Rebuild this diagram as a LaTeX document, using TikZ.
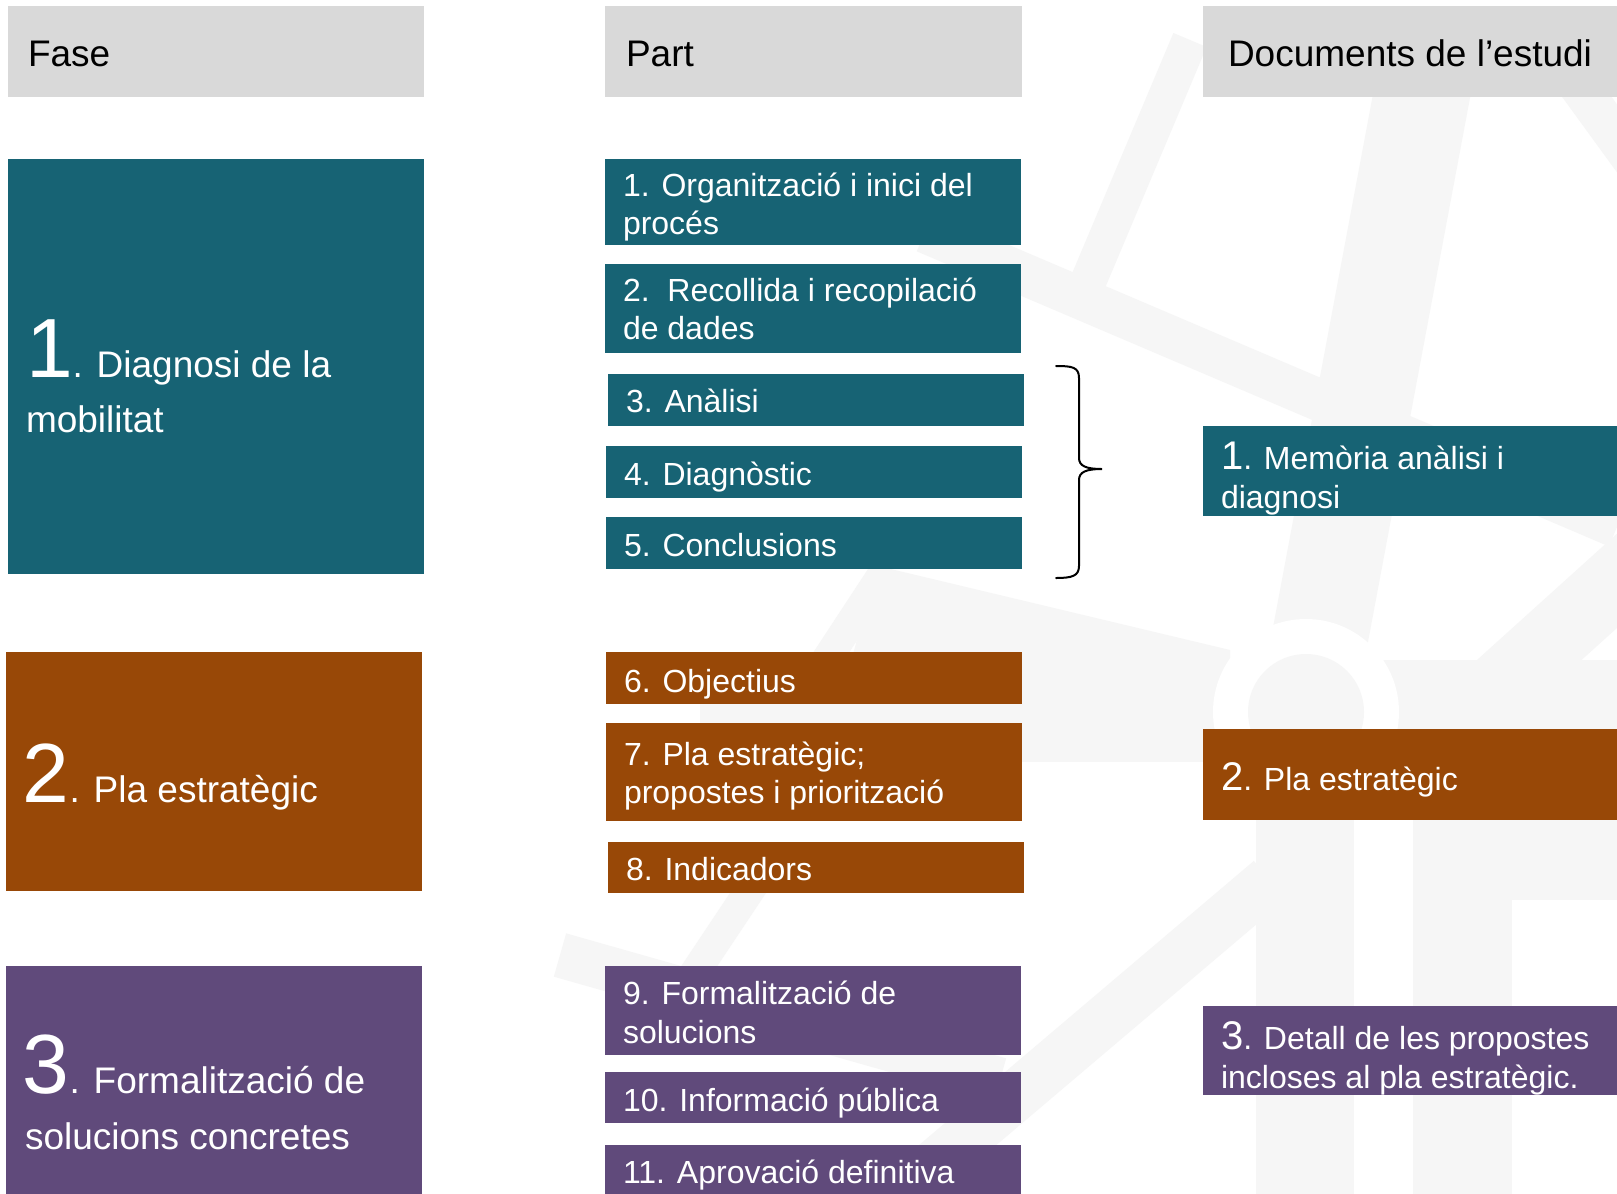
\documentclass[tikz,border=0pt]{standalone}
\usepackage{fontspec}
\setmainfont{Liberation Sans}
\definecolor{tealc}{HTML}{176374}
\definecolor{rustc}{HTML}{984807}
\definecolor{plumc}{HTML}{604A7B}
\definecolor{hdrc}{HTML}{D9D9D9}
\definecolor{wmc}{HTML}{F6F6F6}
\newcommand{\fasenum}[1]{{\fontsize{84}{84}\selectfont #1}}
\newcommand{\docnum}[1]{{\fontsize{40}{40}\selectfont #1}}
\begin{document}
\begin{tikzpicture}[x=1pt,y=-1pt,
  cell/.style={anchor=north west, inner sep=0pt, outer sep=0pt, draw=none},
  hd/.style={cell, fill=hdrc, minimum height=91pt},
  lbl/.style={anchor=base west, inner sep=0pt, outer sep=0pt},
  head/.style={lbl, text=black, font=\fontsize{37}{44}\selectfont},
  fase/.style={lbl, text=white, font=\fontsize{37}{44}\selectfont},
  part/.style={lbl, text=white, font=\fontsize{32}{38}\selectfont},
  wm/.style={draw=wmc, line cap=butt},
  bracec/.style={draw=black, line width=2pt, line cap=round}]
\useasboundingbox (0,0) rectangle (1617,1194);
\begin{scope}
\clip (0,0) rectangle (1617,1194);
\fill[white] (0,0) rectangle (1617,1194);
% ---- watermark (faint logo) ----
\draw[wm, line width=36pt] (1190,40) -- (1088,282);
\draw[wm, line width=42pt] (925,232) -- (1617,527);
\draw[wm, line width=96pt] (1432,40) -- (1306,712);
\fill[wmc] (700,660) rectangle (1617,762);
\fill[wmc] (878,566) -- (1230,650) -- (1230,700) -- (840,700) -- cycle;
\draw[wm, line width=30pt] (884,572) -- (800,700);
\draw[wm, line width=98pt] (1305,712) -- (1305,1194);
\draw[wm, line width=99pt] (1462,712) -- (1462,1194);
\draw[wm, line width=80pt] (1462,860) -- (1617,860);
\draw[wm, line width=70pt] (1496,690) -- (1640,560);
\draw[wm, line width=40pt] (1560,60) -- (1640,170);
\draw[wm, line width=50pt] (1270,880) -- (900,1194);
\draw[wm, line width=30pt] (770,860) -- (690,980);
\draw[wm, line width=45pt] (560,955) -- (1000,1080);
\fill[white] (1306,712) circle[radius=93];
\fill[wmc] (1306,712) circle[radius=58];
% ---- headers ----
\node[hd, minimum width=416pt] (hf) at (8,6) {};
\node[hd, minimum width=417pt] (hp) at (605,6) {};
\node[hd, minimum width=420pt] (hdoc) at (1203,6) {};
\node[head] (hft) at (28,66) {Fase};
\node[head] (hpt) at (626,66) {Part};
\node[head] (hdt) at (1228,66) {Documents de l’estudi};
% ---- Fase column ----
\node[cell, fill=tealc, minimum width=416pt, minimum height=415pt] (f1) at (8,159) {};
\node[cell, fill=rustc, minimum width=416pt, minimum height=239pt] (f2) at (6,652) {};
\node[cell, fill=plumc, minimum width=416pt, minimum height=234pt] (f3) at (6,966) {};
\node[fase] (f1a) at (26,377) {\fasenum{1}. Diagnosi de la};
\node[fase] (f1b) at (26,432) {mobilitat};
\node[fase] (f2a) at (23,802) {\fasenum{2}. Pla estratègic};
\node[fase] (f3a) at (23,1093) {\fasenum{3}. Formalització de};
\node[fase] (f3b) at (25,1149) {solucions concretes};
% ---- Part column ----
\node[cell, fill=tealc, minimum width=416pt, minimum height=86pt] (p1) at (605,159) {};
\node[cell, fill=tealc, minimum width=416pt, minimum height=89pt] (p2) at (605,264) {};
\node[cell, fill=tealc, minimum width=416pt, minimum height=52pt] (p3) at (608,374) {};
\node[cell, fill=tealc, minimum width=416pt, minimum height=52pt] (p4) at (606,446) {};
\node[cell, fill=tealc, minimum width=416pt, minimum height=52pt] (p5) at (606,517) {};
\node[cell, fill=rustc, minimum width=416pt, minimum height=52pt] (p6) at (606,652) {};
\node[cell, fill=rustc, minimum width=416pt, minimum height=98pt] (p7) at (606,723) {};
\node[cell, fill=rustc, minimum width=416pt, minimum height=51pt] (p8) at (608,842) {};
\node[cell, fill=plumc, minimum width=416pt, minimum height=89pt] (p9) at (605,966) {};
\node[cell, fill=plumc, minimum width=416pt, minimum height=51pt] (p10) at (605,1072) {};
\node[cell, fill=plumc, minimum width=416pt, minimum height=60pt] (p11) at (605,1145) {};
\node[part] (p1a) at (623,196) {1. Organització i inici del};
\node[part] (p1b) at (623,234) {procés};
\node[part] (p2a) at (623,301) {2.\ \ Recollida i recopilació};
\node[part] (p2b) at (623,339) {de dades};
\node[part] (p3a) at (626,412) {3. Anàlisi};
\node[part] (p4a) at (624,485) {4. Diagnòstic};
\node[part] (p5a) at (624,556) {5. Conclusions};
\node[part] (p6a) at (624,692) {6. Objectius};
\node[part] (p7a) at (624,765) {7. Pla estratègic;};
\node[part] (p7b) at (624,803) {propostes i priorització};
\node[part] (p8a) at (626,880) {8. Indicadors};
\node[part] (p9a) at (623,1004) {9. Formalització de};
\node[part] (p9b) at (623,1043) {solucions};
\node[part] (p10a) at (623,1111) {10. Informació pública};
\node[part] (p11a) at (623,1183) {11. Aprovació definitiva};
% ---- brace ----
\coordinate (bt) at (1056,366);
\coordinate (bm) at (1102,469);
\coordinate (bb) at (1056,578);
\draw[bracec] (bt) .. controls (1072,366) and (1079,367) .. (1079,378) -- (1079,458)
  .. controls (1079,466) and (1086,469) .. (bm)
  .. controls (1086,469) and (1079,472) .. (1079,480) -- (1079,566)
  .. controls (1079,576) and (1072,578) .. (bb);
% ---- Documents column ----
\node[cell, fill=tealc, minimum width=420pt, minimum height=90pt] (d1) at (1203,426) {};
\node[cell, fill=rustc, minimum width=420pt, minimum height=91pt] (d2) at (1203,729) {};
\node[cell, fill=plumc, minimum width=420pt, minimum height=89pt] (d3) at (1203,1006) {};
\node[part] (d1a) at (1221,469) {\docnum{1}. Memòria anàlisi i};
\node[part] (d1b) at (1221,508) {diagnosi};
\node[part] (d2a) at (1221,790) {\docnum{2}. Pla estratègic};
\node[part] (d3a) at (1221,1049) {\docnum{3}. Detall de les propostes};
\node[part] (d3b) at (1221,1088) {incloses al pla estratègic.};
\end{scope}
\end{tikzpicture}
\end{document}
